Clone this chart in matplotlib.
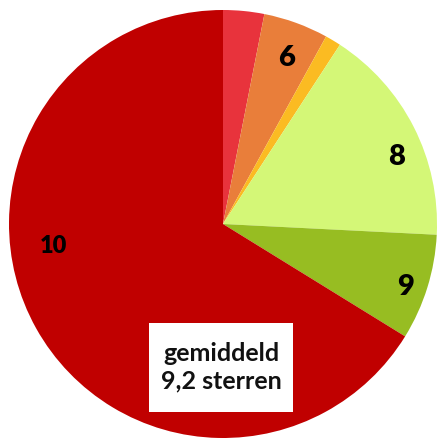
import matplotlib.pyplot as plt
from matplotlib.patches import Rectangle
import numpy as np

# aandeel per aantal sterren (procent), met de klok mee vanaf 12 uur
sterren = ['5', '6', '7', '8', '9', '10']
aandeel = [3.1, 4.9, 1.2, 16.6, 8.0, 66.2]
kleuren = ['#e8333c', '#e97e3a', '#fbbb22', '#d4f777', '#97bd22', '#c00000']

# welke labels zichtbaar zijn + plek (hoek vanaf boven, met de klok mee; afstand tot midden)
label_tonen = [False, True, False, True, True, True]
label_hoek = [0, 21, 0, 69, 109, 262.5]
label_afstand = [0, 0.83, 0, 0.87, 0.90, 0.80]
label_grootte = [0, 21, 0, 21, 21, 17]

plt.rcParams['font.family'] = ['Lato', 'DejaVu Sans']

fig = plt.figure(figsize=(4.37, 4.38), dpi=100)
ax = fig.add_axes([0, 0, 1, 1])
ax.pie(aandeel, colors=kleuren, startangle=90, counterclock=False,
       radius=1.0, wedgeprops=dict(linewidth=0))

for s, toon, h, r, fs in zip(sterren, label_tonen, label_hoek, label_afstand, label_grootte):
    if not toon:
        continue
    a = np.deg2rad(h)
    ax.text(r * np.sin(a), r * np.cos(a), s, ha='center', va='center',
            fontsize=fs, fontweight='heavy', color='black')

# wit kader met gemiddelde
ax.add_patch(Rectangle((-0.346, -0.879), 0.673, 0.416, facecolor='white',
                       edgecolor='none', zorder=3))
ax.text(-0.009, -0.67, 'gemiddeld\n9,2 sterren', ha='center', va='center',
        fontsize=18, fontweight='bold', color='#111111', linespacing=1.25, zorder=4)

ax.set_xlim(-223 / 214, 1.0)
ax.set_ylim(-1.0, 224 / 214)
ax.set_aspect('auto')
ax.axis('off')

fig.savefig('out.png', dpi=100)
